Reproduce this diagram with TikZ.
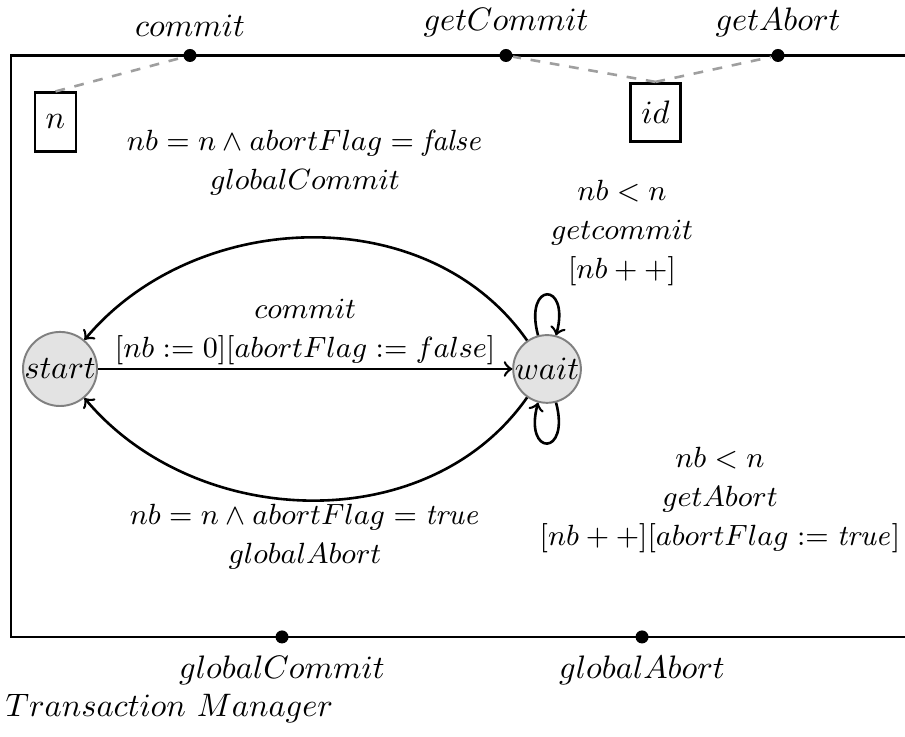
\documentclass[tikz,border=0pt]{standalone}
\tikzstyle{state} = [
circle,
inner sep=0pt,
draw=gray,
fill=gray!22,
semithick
]
\tikzstyle{port} = [
circle,
fill=black,
inner sep=0pt,
minimum size=4pt
]
\tikzstyle{param} = [
rectangle,
draw=black,
thick,
minimum height=18pt
]
\tikzstyle{link} = [
gray!75,
thick,
dashed
]
\tikzstyle{trans} = [
thick,
->
]
\tikzstyle{guard} = [
align=center,
font=\fontsize{9}{12}\selectfont
]

\begin{document}
\begin{tikzpicture}

\useasboundingbox (0,0) rectangle (9.784,-7.957);

% component frame
\draw [thick] (9.784,-0.600) -- (0.119,-0.600) -- (0.119,-6.886) -- (9.784,-6.886);

\node (pcommit) [port, label=above:$commit$] at (2.054,-0.600) {};

\node (pgetcommit) [port, label=above:$getCommit$] at (5.470,-0.600) {};

\node (pgetabort) [port, label=above:$getAbort$] at (8.411,-0.600) {};

\node (pglobalcommit) [port, label=below:$globalCommit$] at (3.049,-6.886) {};

\node (pglobalabort) [port, label=below:$globalAbort$] at (6.941,-6.886) {};

\node (n) [param] at (0.600,-1.319) {$n$};

\node (id) [param] at (7.086,-1.216) {$id$};

\node (start) [state] at (0.649,-3.989) {$start$};

\node (wait) [state] at (5.914,-3.989) {$wait$};

\node (gcommit) [guard] at (3.297,-1.762)
{$nb = n \wedge abortFlag = \mathit{false}$\\$globalCommit$};

\node (gabort) [guard] at (3.297,-5.805)
{$nb = n \wedge abortFlag = \mathit{true}$\\$globalAbort$};

\node (ggetcommit) [guard] at (6.725,-2.519)
{$nb < n$\\$getcommit$\\$[nb++]$};

\node (ggetabort) [guard] at (7.784,-5.405)
{$nb < n$\\$getAbort$\\$[nb++][abortFlag := \mathit{true}]$};

\node (name) [anchor=base west, inner sep=0pt] at (0.054,-7.751)
{$Transaction\ Manager$};

\draw [link] (n.north) -- (pcommit);

\draw [link] (id.north) -- (pgetcommit);

\draw [link] (id.north) -- (pgetabort);

\draw [trans] (start) -- node [guard, above, inner sep=1pt]
{$commit$\\$[nb := 0][abortFlag := false]$} (wait);

\draw [trans] (wait) to [out=125, in=50] (start);

\draw [trans] (wait) to [out=235, in=-50] (start);

\draw [trans] (wait) to [loop above] (wait);

\draw [trans] (wait) to [out=-75, in=-105, looseness=8, min distance=5mm] (wait);

\end{tikzpicture}
\end{document}
